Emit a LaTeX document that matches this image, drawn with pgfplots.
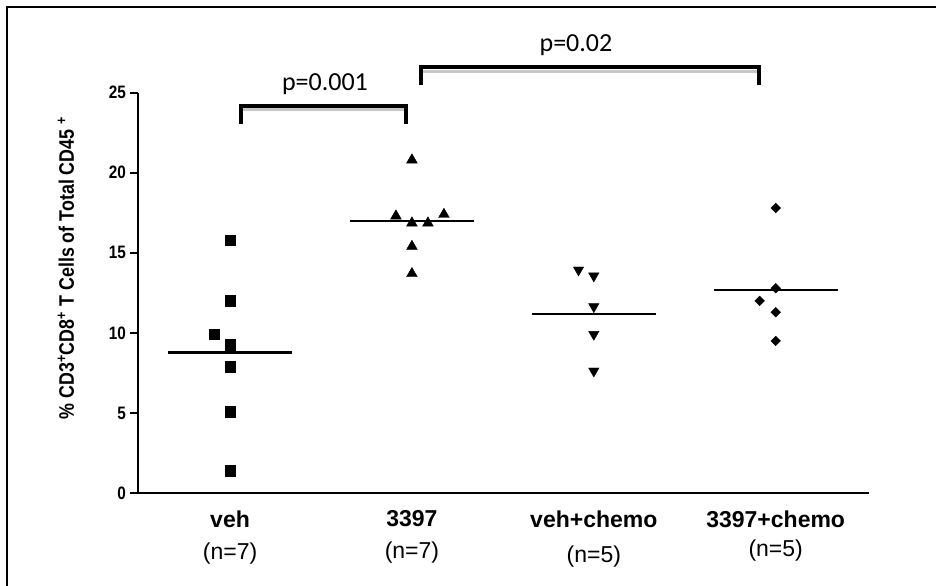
\documentclass[border=0pt]{standalone}
\usepackage{fontspec}
\setmainfont{Liberation Sans}
\newfontfamily\carlito{Carlito}
\newfontfamily\narrowsans[FakeStretch=0.85]{Liberation Sans}
\usepackage{pgfplots}
\pgfplotsset{compat=1.18}
\begin{document}
\begin{tikzpicture}
\useasboundingbox (0bp,0bp) rectangle (936bp,-586bp);
\draw[line width=2bp] (7bp,-586bp) -- (7bp,-7bp) -- (936bp,-7bp);
\node[rotate=90, font=\narrowsans\fontsize{21bp}{23bp}\selectfont\bfseries, inner sep=0pt] at (66bp,-268bp)
  {\% CD3\textsuperscript{+}CD8\textsuperscript{+} T Cells of Total CD45 \textsuperscript{+}};
\begin{axis}[
  at={(138bp,-493bp)}, anchor=south west,
  scale only axis, width=731bp, height=400.3bp,
  xmin=-0.506, xmax=3.513, ymin=0, ymax=25,
  axis x line*=bottom, axis y line*=left,
  axis line style={line width=2.6bp},
  clip=false,
  tick align=outside,
  ytick={0,5,10,15,20,25},
  ytick style={line width=2bp, black},
  major tick length=8bp,
  xtick={0,1,2,3},
  xtick style={draw=none},
  xticklabels={{\textbf{veh}\\(n=7)},{\textbf{3397}\\(n=7)},{\textbf{veh+chemo}\\[3bp](n=5)},{\textbf{3397+chemo}\\[-3bp](n=5)}},
  xticklabel style={font=\fontsize{23bp}{32bp}\selectfont, align=center, inner sep=0pt, anchor=north, yshift=-9.5bp},
  yticklabel style={font=\narrowsans\fontsize{18bp}{20bp}\selectfont\bfseries, inner sep=0pt, anchor=east, xshift=-4bp},
  /pgf/number format/assume math mode=true,
]
% veh
\addplot[only marks, mark=square*, mark size=5.3bp, black] coordinates {
 (0,15.8) (0,12.0) (-0.088,9.92) (0,9.25) (0,7.9) (0,5.08) (0,1.4)};
% 3397
\addplot[only marks, mark=triangle*, mark size=6.2bp, black] coordinates {
 (1,20.8) (0.912,17.3) (1,16.86) (1.088,16.86) (1.176,17.4) (1,15.4) (1,13.7)};
% veh+chemo
\addplot[only marks, mark=triangle*, mark size=6bp, mark options={rotate=180}, black] coordinates {
 (1.916,13.93) (2,13.56) (2,11.64) (2,9.91) (2,7.62)};
% 3397+chemo
\addplot[only marks, mark=square*, mark size=3.4bp, mark options={rotate=45}, black] coordinates {
 (3,17.8) (3,12.79) (2.912,12.0) (3,11.29) (3,9.5)};
% medians
\addplot[black, line width=2.6bp] coordinates {(-0.34,8.77) (0.34,8.77)};
\addplot[black, line width=2.6bp] coordinates {(0.66,17.0) (1.34,17.0)};
\addplot[black, line width=2.6bp] coordinates {(1.66,11.19) (2.34,11.19)};
\addplot[black, line width=2.6bp] coordinates {(2.66,12.69) (3.34,12.69)};
% brackets
\addplot[gray!45, line width=3bp] coordinates {(0.07,23.93) (0.96,23.93)};
\addplot[black, line width=4bp] coordinates {(0.06,23.07) (0.06,24.2) (0.97,24.2) (0.97,23.07)};
\addplot[gray!45, line width=3bp] coordinates {(1.06,26.32) (2.898,26.32)};
\addplot[black, line width=4bp] coordinates {(1.05,25.47) (1.05,26.59) (2.908,26.59) (2.908,25.47)};
\node[font=\carlito\fontsize{26bp}{30bp}\selectfont, inner sep=0pt] at (axis cs:0.522,25.55) {p=0.001};
\node[font=\carlito\fontsize{26bp}{30bp}\selectfont, inner sep=0pt] at (axis cs:1.902,27.94) {p=0.02};
\end{axis}
\end{tikzpicture}
\end{document}
